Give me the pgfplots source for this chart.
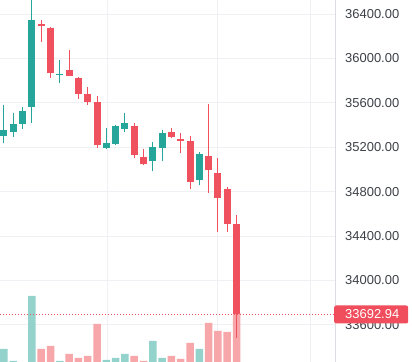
\documentclass[border=0pt]{standalone}
\usepackage{pgfplots}
\pgfplotsset{compat=1.18}
\usepackage{pgfplotstable}
\usepackage{fontspec}
\setmainfont{Liberation Sans}
\definecolor{upc}{HTML}{26A69A}
\definecolor{dnc}{HTML}{F0515E}
\definecolor{volup}{HTML}{93D3CC}
\definecolor{voldn}{HTML}{F7A6A9}
\definecolor{gridc}{HTML}{EFF0F3}
\definecolor{bordc}{HTML}{DCDDE2}
\definecolor{labc}{HTML}{3C3F47}
\definecolor{boxc}{HTML}{F04E5C}

% candles: index open high low close
\pgfplotstableread{
i o h l c
1 35300 35582 35236 35355
2 35336 35509 35291 35409
3 35409 35564 35364 35527
4 35564 36560 35418 36345
7 35850 35982 35782 35860
12 35191 35373 35185 35236
13 35227 35400 35218 35391
14 35364 35509 35336 35418
17 35073 35245 34982 35200
18 35191 35355 35073 35327
22 34900 35155 34855 35136
}\upT
\pgfplotstableread{
i o h l c
5 36309 36345 36145 36295
6 36273 36282 35827 35864
8 35891 36073 35840 35845
9 35827 35830 35636 35682
10 35682 35745 35582 35609
11 35609 35664 35191 35218
15 35391 35418 35100 35127
16 35109 35182 35036 35045
19 35336 35373 35282 35291
20 35273 35327 35145 35255
21 35255 35300 34827 34882
23 35118 35591 34791 34991
24 34964 35100 34436 34745
25 34827 34845 34436 34509
26 34509 34591 33482 33692.94
}\dnT
% volume
\pgfplotstableread{
i v
1 13
2 1
4 66
7 1
12 2
13 4
14 8
17 21
18 4
22 13
}\volUp
\pgfplotstableread{
i v
5 13
6 16
8 8
9 4
10 6
11 38
15 6
16 1
19 6
20 3
21 19
23 39
24 31
25 30
26 49
}\volDn

\begin{document}
\begin{tikzpicture}
\pgfplotsset{base/.style={scale only axis, width=335bp, height=362bp,
  xmin=0.57, xmax=36.59, at={(0,0)}, anchor=south west}}
% grid and price labels
\begin{axis}[base, ymin=33265, ymax=36526,
  axis y line*=right, axis x line*=bottom,
  x axis line style={draw=none}, y axis line style={-, draw=bordc, line width=0.8bp},
  ytick={33600,34000,...,36400}, xtick={12.08,23.9,33.9}, xticklabels={},
  scaled y ticks=false, scaled x ticks=false,
  ymajorgrids, xmajorgrids, grid style={gridc, line width=0.8bp},
  major tick length=0pt,
  yticklabel style={anchor=west, inner sep=0pt, xshift=10bp, font=\fontsize{13}{15}\selectfont, text=labc,
    /pgf/number format/.cd, fixed, fixed zerofill, precision=2, 1000 sep={}, assume math mode=true}]
\addplot[draw=none] coordinates {(1,34000)};
\end{axis}
% volume
\begin{axis}[base, hide axis, ymin=0, ymax=362]
\addplot[ybar, bar shift=0pt, bar width=7.5bp, fill=volup, draw=none] table[x=i,y=v]{\volUp};
\addplot[ybar, bar shift=0pt, bar width=7.5bp, fill=voldn, draw=none] table[x=i,y=v]{\volDn};
\end{axis}
% candles
\begin{axis}[base, hide axis, ymin=33265, ymax=36526]
\addplot[dnc, line width=0.8bp, dash pattern=on 1bp off 2bp] coordinates {(0.57,33692.94) (36.59,33692.94)};
\addplot[draw=none, mark=none, error bars/.cd, y dir=plus, y explicit, error mark=none,
  error bar style={line width=1bp, draw=upc}] table[x=i, y=l, y error expr=\thisrow{h}-\thisrow{l}]{\upT};
\addplot[draw=none, mark=none, error bars/.cd, y dir=plus, y explicit, error mark=none,
  error bar style={line width=7bp, draw=upc}] table[x=i, y=o, y error expr=\thisrow{c}-\thisrow{o}]{\upT};
\addplot[draw=none, mark=none, error bars/.cd, y dir=plus, y explicit, error mark=none,
  error bar style={line width=1bp, draw=dnc}] table[x=i, y=l, y error expr=\thisrow{h}-\thisrow{l}]{\dnT};
\addplot[draw=none, mark=none, error bars/.cd, y dir=plus, y explicit, error mark=none,
  error bar style={line width=7bp, draw=dnc}] table[x=i, y=c, y error expr=\thisrow{o}-\thisrow{c}]{\dnT};
\coordinate (lp) at (axis cs:36.59,33692.94);
\end{axis}
\node[fill=boxc, rounded corners=2bp, minimum width=74bp, minimum height=18bp, anchor=west, inner sep=0pt] at ([xshift=-1bp]lp) {};
\node[anchor=west, inner sep=0pt, text=white, font=\fontsize{13}{15}\selectfont] at ([xshift=10bp]lp) {33692.94};
\pgfresetboundingbox
\path (0,0) rectangle (412bp,362bp);
\end{tikzpicture}
\end{document}
